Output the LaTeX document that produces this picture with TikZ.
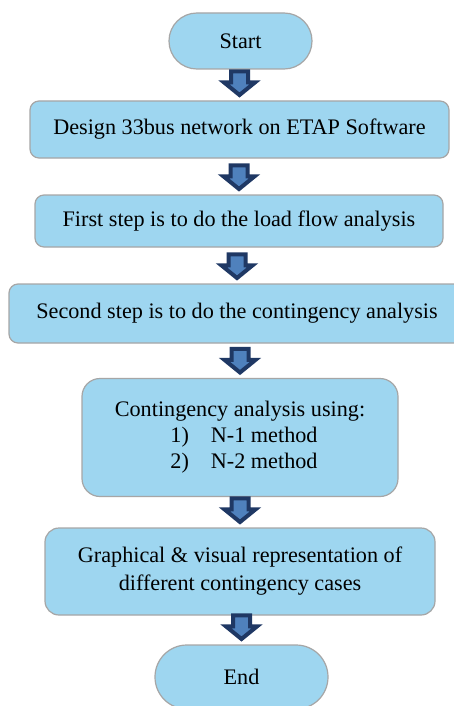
\documentclass[tikz,border=0pt]{standalone}
\usepackage{fontspec}
\setmainfont{Liberation Serif}
\usetikzlibrary{calc}
\definecolor{boxfill}{RGB}{158,214,240}
\definecolor{boxline}{RGB}{166,166,166}
\definecolor{arrowfill}{RGB}{79,129,189}
\definecolor{arrowline}{RGB}{31,56,100}
\tikzset{
  flowbox/.style={draw=boxline, fill=boxfill, line width=1.2pt, rounded corners=9pt,
    inner sep=0pt, align=center, text=black, font=\fontsize{22.2}{26}\selectfont},
  pill/.style={flowbox, rounded corners=27.9pt},
  blockarrow/.style={draw=arrowline, fill=arrowfill, line width=4pt, line join=miter},
}
\newcommand\blkarrow[2]{%
  \draw[blockarrow] let \p1=(#1.south), \p2=(#2.north) in
    (\x2-8.5pt,\y2+29pt) -- (\x2+8.5pt,\y2+29pt) -- (\x2+8.5pt,\y2+18pt) --
    (\x2+15.5pt,\y2+18pt) -- (\x2,\y2+5.4pt) -- (\x2-15.5pt,\y2+18pt) --
    (\x2-8.5pt,\y2+18pt) -- cycle;}
\begin{document}
\begin{tikzpicture}[x=1pt,y=-1pt]
\useasboundingbox[fill=white] (0,0) rectangle (453,706);
\node[pill, minimum width=143pt, minimum height=56pt] (start) at (240.5,41) {Start};
\node[flowbox, minimum width=419pt, minimum height=57pt] (design) at (239.5,129.5) {Design 33bus network on ETAP Software};
\node[flowbox, minimum width=408pt, minimum height=52pt] (load) at (239,221) {First step is to do the load flow analysis};
\node[flowbox, minimum width=456pt, minimum height=59pt] (second) at (237,313.5) {Second step is to do the contingency analysis};
\node[flowbox, rounded corners=18pt, minimum width=316pt, minimum height=118pt] (cont) at (240,437.5)
  {Contingency analysis using:\\
   \hspace*{8pt}1)\hspace{22pt}N-1 method\\
   \hspace*{8pt}2)\hspace{22pt}N-2 method};
\node[flowbox, rounded corners=14pt, minimum width=390pt, minimum height=87pt,
  font=\fontsize{22.2}{28}\selectfont] (graph) at (240,571.5)
  {Graphical \& visual representation of\\different contingency cases};
\node[pill, rounded corners=31.9pt, minimum width=173pt, minimum height=64pt] (end) at (241.5,677) {End};
\blkarrow{start}{design}
\blkarrow{design}{load}
\blkarrow{load}{second}
\blkarrow{second}{cont}
\blkarrow{cont}{graph}
\blkarrow{graph}{end}
\end{tikzpicture}
\end{document}
